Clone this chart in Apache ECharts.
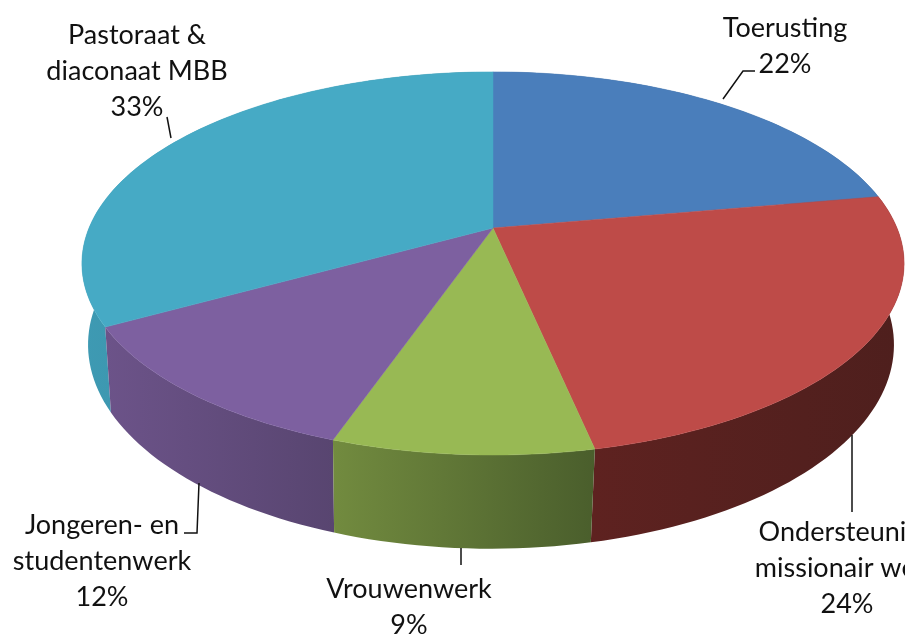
<!DOCTYPE html>
<html>
<head>
<meta charset="utf-8">
<style>html,body{margin:0;padding:0;background:#fff}#c{width:912px;height:634px}</style>
<script src="https://cdn.jsdelivr.net/npm/echarts@6/dist/echarts.min.js"></script>
</head>
<body>
<div id="c"></div>
<script>
// ---- data ----
const categories = ['Toerusting', 'Ondersteuning\nmissionair werk', 'Vrouwenwerk', 'Jongeren- en\nstudentenwerk', 'Pastoraat &\ndiaconaat MBB'];
const shares = [22.2, 24.49, 8.61, 11.6, 33.1];
const topColors = ['#4A7EBB', '#BE4B48', '#98B954', '#7D60A0', '#46AAC5'];
const wallLeft = ['#3A6394', '#5E2220', '#728B3F', '#6C5389', '#3E9AB3'];
const wallRight = ['#33587F', '#4E1F1D', '#4A5E2C', '#584570', '#327F94'];

// ---- layout ----
const PERSP = 0.185;
const topDisc = {cx: 493, cy: 228, R: 404, Rk: 185};
const baseDisc = {cx: 491, cy: 307, R: 396, Rk: 197};
const FONT = '27px Lato, "Open Sans", sans-serif';
const labelPos = [[785, 46], [847, 568], [409, 607], [102, 561], [137, 71]];
const leaders = [
  [[723, 99], [743, 71], [755, 71]],
  [[852, 435], [852, 512]],
  [[461, 548], [461, 565]],
  [[199, 483], [197, 533], [184, 533]],
  [[167, 117], [171, 138]]
];

function project(deg, disc) {
  const t = deg * Math.PI / 180, X = Math.sin(t), Y = -Math.cos(t), s = 1 / (1 - PERSP * Y);
  return [disc.cx + disc.R * X * s, disc.cy + disc.Rk * Y * s];
}
function arc(a0, a1, disc) {
  const pts = [], n = Math.max(2, Math.ceil((a1 - a0) / 1.5));
  for (let i = 0; i <= n; i++) pts.push(project(a0 + (a1 - a0) * i / n, disc));
  return pts;
}

const total = shares.reduce((a, b) => a + b, 0);
let acc = 0;
const sliceData = shares.map((v, i) => {
  const start = acc / total * 360; acc += v;
  return [start, acc / total * 360, i, v];
});
// walls painted from the back to the front
const wallData = sliceData.slice().sort((a, b) =>
  -Math.cos((a[0] + a[1]) / 360 * Math.PI) + Math.cos((b[0] + b[1]) / 360 * Math.PI));

const chart = echarts.init(document.getElementById('c'), null, {renderer: 'canvas'});
chart.setOption({
  animation: false,
  backgroundColor: '#ffffff',
  series: [
    {
      type: 'custom', coordinateSystem: 'none', silent: true, z: 1,
      data: wallData,
      renderItem(params, api) {
        const a0 = api.value(0), a1 = api.value(1), i = api.value(2);
        const pts = arc(a0, a1, topDisc).concat(arc(a0, a1, baseDisc).reverse());
        return {
          type: 'polygon', shape: {points: pts},
          style: {
            fill: new echarts.graphic.LinearGradient(0, 0, 1, 0, [
              {offset: 0, color: wallLeft[i]}, {offset: 1, color: wallRight[i]}
            ]),
            lineWidth: 0
          }
        };
      }
    },
    {
      type: 'custom', coordinateSystem: 'none', silent: true, z: 2,
      data: sliceData,
      renderItem(params, api) {
        const a0 = api.value(0), a1 = api.value(1), i = api.value(2);
        const pts = [[topDisc.cx, topDisc.cy]].concat(arc(a0, a1, topDisc));
        return {
          type: 'polygon', shape: {points: pts},
          style: {fill: topColors[i], stroke: topColors[i], lineWidth: 0.5}
        };
      }
    },
    {
      type: 'custom', coordinateSystem: 'none', silent: true, z: 3,
      data: sliceData,
      renderItem(params, api) {
        const i = api.value(2), pct = Math.round(api.value(3));
        return {
          type: 'group',
          children: [
            {
              type: 'polyline', shape: {points: leaders[i]},
              style: {fill: 'none', stroke: '#111111', lineWidth: 1.5}
            },
            {
              type: 'text', x: labelPos[i][0], y: labelPos[i][1],
              clipPath: {type: 'rect', shape: {x: -1000, y: -1000, width: 905 - labelPos[i][0] + 1000, height: 2000}},
              style: {
                text: categories[i] + '\n' + pct + '%',
                font: FONT, fill: '#111111', align: 'center', verticalAlign: 'middle', lineHeight: 36
              }
            }
          ]
        };
      }
    }
  ]
});
</script>
</body>
</html>
